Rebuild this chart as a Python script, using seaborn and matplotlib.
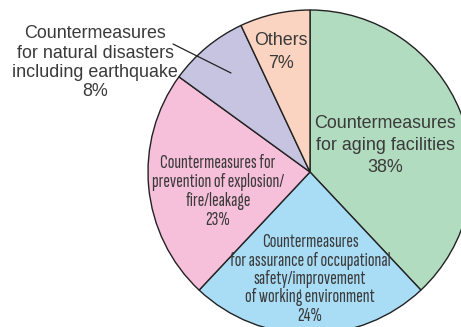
import matplotlib
matplotlib.use("Agg")
import matplotlib.pyplot as plt
from matplotlib import font_manager
import seaborn as sns

categories = [
    "Countermeasures\nfor aging facilities",
    "Countermeasures\nfor assurance of occupational\nsafety/improvement\nof working environment",
    "Countermeasures for\nprevention of explosion/\nfire/leakage",
    "Countermeasures\nfor natural disasters\nincluding earthquake",
    "Others",
]
shares = [38, 24, 23, 8, 7]
slice_colors = ["#b2dcc0", "#a9ddf6", "#f6bfda", "#c7c4e1", "#fbd4c1"]

sns.set_theme(style="white")
available = {f.name for f in font_manager.fontManager.ttflist}
regular = "Liberation Sans"
narrow, narrow_size = next(((n, s) for n, s in (("Sofia Sans Extra Condensed", 14.3),
                                                 ("Sofia Sans Condensed", 11.9),
                                                 ("Roboto Condensed", 10.2))
                            if n in available), (regular, 9.5))
plt.rcParams["font.family"] = [regular, "DejaVu Sans"]

W, H = 461, 327
fig = plt.figure(figsize=(W / 100, H / 100), dpi=100)
ax = fig.add_axes([0, 0, 1, 1])

cx, cy, r = 310, 155, 162
wedges, _ = ax.pie(
    shares,
    colors=sns.color_palette(slice_colors),
    startangle=90,
    counterclock=False,
    center=(cx, cy),
    radius=r,
    wedgeprops=dict(edgecolor="#222222", linewidth=1.0),
)
ax.set_xlim(0, W)
ax.set_ylim(0, H)
ax.set_aspect("equal", adjustable="box")
ax.axis("off")

txt = "#3a3a3a"


def label(i, x, first_baseline, step, font, size):
    """Write a slice's name and share line by line, baselines measured from the top."""
    rows = categories[i].split("\n") + [f"{shares[i]}%"]
    for k, row in enumerate(rows):
        ax.text(x, H - (first_baseline + k * step), row, ha="center", va="baseline",
                fontsize=size, color=txt, family=[font, "DejaVu Sans"])


label(0, 385, 128, 22, regular, 12.9)
label(4, 281, 45, 23, regular, 12.9)
label(2, 218, 168, 19, narrow, narrow_size)
label(1, 310, 247, 18.5, narrow, narrow_size)
label(3, 95, 38, 19.5, regular, 12.9)

# leader line from the outside label to its slice
ax.plot([173, 231], [H - 44, H - 73], color="#222222", linewidth=0.9)

fig.savefig("out.png", dpi=100)
